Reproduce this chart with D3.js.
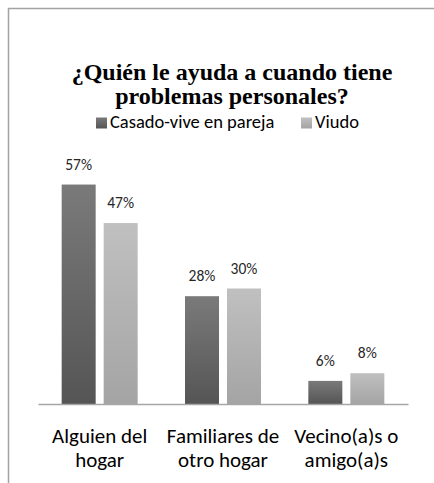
<!DOCTYPE html>
<html>
<head>
<meta charset="utf-8">
<script src="https://cdn.jsdelivr.net/npm/d3@7"></script>
<style>
  html, body { margin: 0; padding: 0; background: #ffffff; }
  svg { display: block; }
  .ttl { font-family: "Liberation Serif", "Times New Roman", serif; font-weight: bold; }
  .sans { font-family: Carlito, Calibri, Lato, sans-serif; }
</style>
</head>
<body>
<svg id="chart" width="434" height="483"></svg>
<script>
const categories = [["Alguien del", "hogar"], ["Familiares de", "otro hogar"], ["Vecino(a)s o", "amigo(a)s"]];
const seriesNames = ["Casado-vive en pareja", "Viudo"];
const casado = [57, 28, 6];
const viudo = [47, 30, 8];
const titleLines = ["¿Quién le ayuda a cuando tiene", "problemas personales?"];

const svg = d3.select("#chart");

// gradients
const defs = svg.append("defs");
const grads = [
  { id: "gDark", top: "#7a7a7a", bottom: "#555555" },
  { id: "gLight", top: "#c0c0c0", bottom: "#a4a4a4" }
];
grads.forEach(g => {
  const lg = defs.append("linearGradient").attr("id", g.id)
    .attr("x1", 0).attr("y1", 0).attr("x2", 0).attr("y2", 1);
  lg.append("stop").attr("offset", "0%").attr("stop-color", g.top);
  lg.append("stop").attr("offset", "100%").attr("stop-color", g.bottom);
});
const fills = ["url(#gDark)", "url(#gLight)"];

// chart border (extends past the right and bottom edges)
svg.append("rect")
  .attr("x", 8.5).attr("y", 8.5)
  .attr("width", 600).attr("height", 600)
  .attr("fill", "none").attr("stroke", "#a3a3a3").attr("stroke-width", 1.5);

// title
titleLines.forEach((t, i) => {
  svg.append("text")
    .attr("class", "ttl")
    .attr("text-anchor", "middle")
    .attr("font-size", 24)
    .attr("fill", "#000")
    .attr("x", 232).attr("y", 80 + i * 23.5)
    .text(t);
});

// scales
const plot = { left: 38, right: 408, top: 173, bottom: 404 };
const x0 = d3.scaleBand().domain(d3.range(categories.length))
  .range([plot.left, plot.right]).paddingInner(0).paddingOuter(0);
const barW = 34, gap = 8;
const x1 = d3.scaleBand().domain(d3.range(seriesNames.length))
  .range([0, barW * 2 + gap]).paddingInner(gap / (barW + gap)).paddingOuter(0);
const y = d3.scaleLinear().domain([0, 60]).range([plot.bottom, plot.top]);

const data = [casado, viudo];

// bars
const groups = svg.append("g").selectAll("g")
  .data(categories.map((c, i) => i))
  .join("g")
  .attr("transform", i => `translate(${x0(i) + x0.bandwidth() / 2 - (barW * 2 + gap) / 2},0)`);

groups.selectAll("rect")
  .data(i => data.map((s, j) => ({ s: j, v: s[i] })))
  .join("rect")
  .attr("x", d => x1(d.s))
  .attr("width", x1.bandwidth())
  .attr("y", d => y(d.v))
  .attr("height", d => y(0) - y(d.v))
  .attr("fill", d => fills[d.s]);

groups.selectAll("text.val")
  .data(i => data.map((s, j) => ({ s: j, v: s[i] })))
  .join("text")
  .attr("class", "val sans")
  .attr("x", d => x1(d.s) + x1.bandwidth() / 2)
  .attr("y", d => y(d.v) - 15)
  .attr("text-anchor", "middle")
  .attr("font-size", 15.5)
  .attr("fill", "#262626")
  .text(d => d.v + "%");

// baseline axis
const xAxis = d3.axisBottom(x0).tickSize(0).tickFormat("");
const axG = svg.append("g").attr("transform", `translate(0,${plot.bottom})`).call(xAxis);
axG.select(".domain").attr("stroke", "#a6a6a6").attr("stroke-width", 1.5);

// category labels
categories.forEach((c, i) => {
  const t = svg.append("text")
    .attr("class", "sans")
    .attr("text-anchor", "middle")
    .attr("font-size", 21)
    .attr("fill", "#000");
  c.forEach((line, k) => {
    t.append("tspan").attr("x", x0(i) + x0.bandwidth() / 2).attr("y", 443 + k * 24).text(line);
  });
});

// legend
const legend = svg.append("g");
const legendItems = [
  { name: seriesNames[0], fill: fills[0], x: 96 },
  { name: seriesNames[1], fill: fills[1], x: 301 }
];
legendItems.forEach(it => {
  legend.append("rect").attr("x", it.x).attr("y", 117.5).attr("width", 11).attr("height", 11).attr("fill", it.fill);
  legend.append("text").attr("class", "sans").attr("x", it.x + 14).attr("y", 127.5)
    .attr("font-size", 18.5).attr("fill", "#000").text(it.name);
});
</script>
</body>
</html>
